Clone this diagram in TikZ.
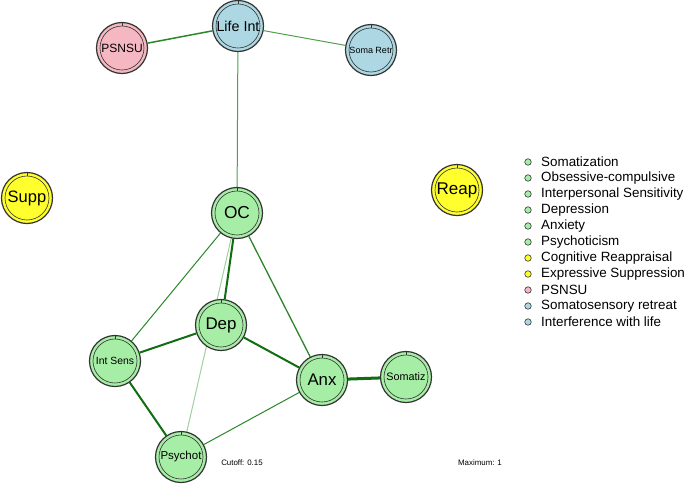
\documentclass[tikz,border=0pt]{standalone}
\usepackage{fontspec}
\setmainfont{Liberation Sans}
\usetikzlibrary{backgrounds}
\definecolor{gfill}{HTML}{A6EDA6}
\definecolor{yfill}{HTML}{FFFF2E}
\definecolor{pfill}{HTML}{F5B7C1}
\definecolor{bfill}{HTML}{ADD8E3}
\definecolor{ringc}{HTML}{333333}
\definecolor{edark}{HTML}{0F6E0F}
\definecolor{emid}{HTML}{2A872A}
\definecolor{elight}{HTML}{4CA34C}
\definecolor{epale}{HTML}{A0D0A0}
\tikzset{
  qn/.style={circle, inner sep=0pt, minimum size=51pt, draw=ringc, line width=1.2pt, fill=#1,
    path picture={
      \draw[ringc, line width=0.6pt] (path picture bounding box.center) circle [radius=22pt];
      \draw[ringc, line width=0.6pt] (path picture bounding box.center) ++(0,22pt) -- ++(0,3pt);
    }},
  fs/.style={font=\fontsize{#1}{#1}\selectfont},
  ed/.style={line width=#1},
  ldot/.style={circle, inner sep=0pt, minimum size=6.5pt, draw=ringc, line width=0.6pt, fill=#1},
  ltxt/.style={anchor=west, inner sep=0pt, font=\fontsize{13.4}{13.4}\selectfont}
}
\begin{document}
\begin{tikzpicture}[x=1pt, y=-1pt]
\useasboundingbox (0,0) rectangle (685,483);
% nodes
\node[qn=bfill, fs=14.3] (LifeInt) at (238,26) {Life Int};
\node[qn=pfill, fs=12] (PSNSU) at (122,48) {PSNSU};
\node[qn=bfill, fs=9] (SomaRetr) at (371,50) {Soma Retr};
\node[qn=yfill, fs=16.5] (Supp) at (27,198) {Supp};
\node[qn=yfill, fs=17] (Reap) at (457,190) {Reap};
\node[qn=gfill, fs=17.3] (OC) at (237,213) {OC};
\node[qn=gfill, fs=16.9] (Dep) at (221,325) {Dep};
\node[qn=gfill, fs=10.4] (IntSens) at (115,361) {Int Sens};
\node[qn=gfill, fs=11.5] (Psychot) at (181,457) {Psychot};
\node[qn=gfill, fs=16.8] (Anx) at (322,380) {Anx};
\node[qn=gfill, fs=10.8] (Somatiz) at (406,377) {Somatiz};
% edges
\begin{pgfonlayer}{background}
\draw[ed=1.5pt, emid] (LifeInt) -- (PSNSU);
\draw[ed=1pt, elight] (LifeInt) -- (SomaRetr);
\draw[ed=1pt, elight] (LifeInt) -- (OC);
\draw[ed=1pt, emid] (OC) -- (IntSens);
\draw[ed=2pt, edark] (OC) -- (Dep);
\draw[ed=1.3pt, emid] (OC) -- (Anx);
\draw[ed=1pt, epale] (OC) -- (Psychot);
\draw[ed=2pt, edark] (Dep) -- (IntSens);
\draw[ed=2pt, edark] (Dep) -- (Anx);
\draw[ed=2pt, edark] (IntSens) -- (Psychot);
\draw[ed=1pt, emid] (Psychot) -- (Anx);
\draw[ed=3pt, edark] (Anx) -- (Somatiz);
\end{pgfonlayer}
% footer
\node[fs=7.9, inner sep=0pt] (cut) at (242,463) {Cutoff: 0.15};
\node[fs=7.9, inner sep=0pt] (max) at (480,463) {Maximum: 1};
% legend
\node[ldot=gfill] (l1) at (528,162) {}; \node[ltxt] at (541,162) {Somatization};
\node[ldot=gfill] (l2) at (528,178) {}; \node[ltxt] at (541,178) {Obsessive-compulsive};
\node[ldot=gfill] (l3) at (528,194) {}; \node[ltxt] at (541,194) {Interpersonal Sensitivity};
\node[ldot=gfill] (l4) at (528,210) {}; \node[ltxt] at (541,210) {Depression};
\node[ldot=gfill] (l5) at (528,226) {}; \node[ltxt] at (541,226) {Anxiety};
\node[ldot=gfill] (l6) at (528,242) {}; \node[ltxt] at (541,242) {Psychoticism};
\node[ldot=yfill] (l7) at (528,258) {}; \node[ltxt] at (541,258) {Cognitive Reappraisal};
\node[ldot=yfill] (l8) at (528,274) {}; \node[ltxt] at (541,274) {Expressive Suppression};
\node[ldot=pfill] (l9) at (528,290) {}; \node[ltxt] at (541,290) {PSNSU};
\node[ldot=bfill] (l10) at (528,306) {}; \node[ltxt] at (541,306) {Somatosensory retreat};
\node[ldot=bfill] (l11) at (528,322) {}; \node[ltxt] at (541,322) {Interference with life};
\end{tikzpicture}
\end{document}
